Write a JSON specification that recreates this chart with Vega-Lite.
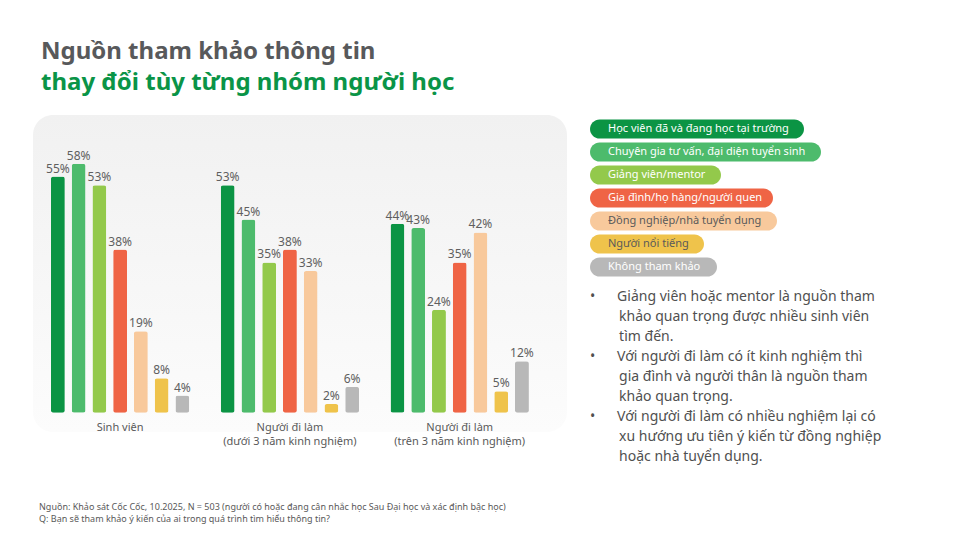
{
  "$schema": "https://vega.github.io/schema/vega-lite/v6.json",
  "background": "white",
  "padding": {"left": 33, "top": 40, "right": 5, "bottom": 5},
  "title": {
    "text": "Nguồn tham khảo thông tin",
    "subtitle": "thay đổi tùy từng nhóm người học",
    "anchor": "start",
    "dx": 8,
    "font": "Noto Sans",
    "fontSize": 24,
    "fontWeight": "bold",
    "color": "#58595b",
    "subtitleFont": "Noto Sans",
    "subtitleFontSize": 24,
    "subtitleFontWeight": "bold",
    "subtitleColor": "#0a9447",
    "subtitlePadding": 7,
    "offset": 20
  },
  "config": {"view": {"stroke": null}, "font": "Noto Sans"},
  "datasets": {
    "survey": [
      {"group": "Sinh viên", "source": "Học viên đã và đang học tại trường", "pct": 0.55},
      {"group": "Sinh viên", "source": "Chuyên gia tư vấn, đại diện tuyển sinh", "pct": 0.58},
      {"group": "Sinh viên", "source": "Giảng viên/mentor", "pct": 0.53},
      {"group": "Sinh viên", "source": "Gia đình/họ hàng/người quen", "pct": 0.38},
      {"group": "Sinh viên", "source": "Đồng nghiệp/nhà tuyển dụng", "pct": 0.19},
      {"group": "Sinh viên", "source": "Người nổi tiếng", "pct": 0.08},
      {"group": "Sinh viên", "source": "Không tham khảo", "pct": 0.04},
      {"group": "Người đi làm (dưới 3 năm kinh nghiệm)", "source": "Học viên đã và đang học tại trường", "pct": 0.53},
      {"group": "Người đi làm (dưới 3 năm kinh nghiệm)", "source": "Chuyên gia tư vấn, đại diện tuyển sinh", "pct": 0.45},
      {"group": "Người đi làm (dưới 3 năm kinh nghiệm)", "source": "Giảng viên/mentor", "pct": 0.35},
      {"group": "Người đi làm (dưới 3 năm kinh nghiệm)", "source": "Gia đình/họ hàng/người quen", "pct": 0.38},
      {"group": "Người đi làm (dưới 3 năm kinh nghiệm)", "source": "Đồng nghiệp/nhà tuyển dụng", "pct": 0.33},
      {"group": "Người đi làm (dưới 3 năm kinh nghiệm)", "source": "Người nổi tiếng", "pct": 0.02},
      {"group": "Người đi làm (dưới 3 năm kinh nghiệm)", "source": "Không tham khảo", "pct": 0.06},
      {"group": "Người đi làm (trên 3 năm kinh nghiệm)", "source": "Học viên đã và đang học tại trường", "pct": 0.44},
      {"group": "Người đi làm (trên 3 năm kinh nghiệm)", "source": "Chuyên gia tư vấn, đại diện tuyển sinh", "pct": 0.43},
      {"group": "Người đi làm (trên 3 năm kinh nghiệm)", "source": "Giảng viên/mentor", "pct": 0.24},
      {"group": "Người đi làm (trên 3 năm kinh nghiệm)", "source": "Gia đình/họ hàng/người quen", "pct": 0.35},
      {"group": "Người đi làm (trên 3 năm kinh nghiệm)", "source": "Đồng nghiệp/nhà tuyển dụng", "pct": 0.42},
      {"group": "Người đi làm (trên 3 năm kinh nghiệm)", "source": "Người nổi tiếng", "pct": 0.05},
      {"group": "Người đi làm (trên 3 năm kinh nghiệm)", "source": "Không tham khảo", "pct": 0.12}
    ],
    "sources": [
      {"source": "Học viên đã và đang học tại trường"},
      {"source": "Chuyên gia tư vấn, đại diện tuyển sinh"},
      {"source": "Giảng viên/mentor"},
      {"source": "Gia đình/họ hàng/người quen"},
      {"source": "Đồng nghiệp/nhà tuyển dụng"},
      {"source": "Người nổi tiếng"},
      {"source": "Không tham khảo"}
    ],
    "notes": [
      {"line": 1, "text": "•\u00a0\u00a0\u00a0\u00a0\u00a0\u00a0Giảng viên hoặc mentor là nguồn tham"},
      {"line": 2, "text": "\u200b\u00a0\u00a0\u00a0\u00a0\u00a0\u00a0\u00a0\u00a0khảo quan trọng được nhiều sinh viên"},
      {"line": 3, "text": "\u200b\u00a0\u00a0\u00a0\u00a0\u00a0\u00a0\u00a0\u00a0tìm đến."},
      {"line": 4, "text": "•\u00a0\u00a0\u00a0\u00a0\u00a0\u00a0Với người đi làm có ít kinh nghiệm thì"},
      {"line": 5, "text": "\u200b\u00a0\u00a0\u00a0\u00a0\u00a0\u00a0\u00a0\u00a0gia đình và người thân là nguồn tham"},
      {"line": 6, "text": "\u200b\u00a0\u00a0\u00a0\u00a0\u00a0\u00a0\u00a0\u00a0khảo quan trọng."},
      {"line": 7, "text": "•\u00a0\u00a0\u00a0\u00a0\u00a0\u00a0Với người đi làm có nhiều nghiệm lại có"},
      {"line": 8, "text": "\u200b\u00a0\u00a0\u00a0\u00a0\u00a0\u00a0\u00a0\u00a0xu hướng ưu tiên ý kiến từ đồng nghiệp"},
      {"line": 9, "text": "\u200b\u00a0\u00a0\u00a0\u00a0\u00a0\u00a0\u00a0\u00a0hoặc nhà tuyển dụng."}
    ]
  },
  "spacing": 23,
  "resolve": {"scale": {"color": "independent", "shape": "independent"}},
  "hconcat": [
    {
      "width": 534,
      "height": 317,
      "data": {"name": "survey"},
      "view": {
        "stroke": null,
        "cornerRadius": 20,
        "fill": {
          "gradient": "linear",
          "x1": 0, "y1": 0, "x2": 0, "y2": 1,
          "stops": [
            {"offset": 0, "color": "#f1f1f1"},
            {"offset": 1, "color": "#fcfcfc"}
          ]
        }
      },
      "title": {
        "text": [
          "Nguồn: Khảo sát Cốc Cốc, 10.2025, N = 503 (người có hoặc đang cân nhắc học Sau Đại học và xác định bậc học)",
          "Q: Bạn sẽ tham khảo ý kiến của ai trong quá trình tìm hiểu thông tin?"
        ],
        "orient": "bottom",
        "anchor": "start",
        "dx": 6,
        "offset": 57,
        "font": "Noto Sans",
        "fontSize": 9,
        "fontWeight": "normal",
        "color": "#595959",
        "lineHeight": 12
      },
      "encoding": {
        "x": {
          "field": "group",
          "type": "nominal",
          "sort": null,
          "scale": {"paddingInner": 0.185, "paddingOuter": 0.165, "align": 0.32},
          "axis": {
            "title": null,
            "domain": false,
            "ticks": false,
            "grid": false,
            "labelAngle": 0,
            "offset": -13,
            "labelPadding": 2,
            "labelFont": "Noto Sans",
            "labelFontSize": 11,
            "labelColor": "#595959",
            "labelLineHeight": 14,
            "labelExpr": "indexof(datum.label, ' (') > 0 ? [slice(datum.label, 0, indexof(datum.label, ' (')), slice(datum.label, indexof(datum.label, ' (') + 1)] : datum.label"
          }
        },
        "xOffset": {
          "field": "source",
          "type": "nominal",
          "sort": [
            "Học viên đã và đang học tại trường",
            "Chuyên gia tư vấn, đại diện tuyển sinh",
            "Giảng viên/mentor",
            "Gia đình/họ hàng/người quen",
            "Đồng nghiệp/nhà tuyển dụng",
            "Người nổi tiếng",
            "Không tham khảo"
          ],
          "scale": {"paddingInner": 0.33, "paddingOuter": 0}
        },
        "y": {
          "field": "pct",
          "type": "quantitative",
          "scale": {"domain": [-0.045, 0.6935], "zero": false, "nice": false},
          "axis": null
        }
      },
      "layer": [
        {
          "mark": {"type": "bar", "cornerRadius": 2.5},
          "encoding": {
            "color": {
              "field": "source",
              "type": "nominal",
              "scale": {
                "domain": [
                  "Học viên đã và đang học tại trường",
                  "Chuyên gia tư vấn, đại diện tuyển sinh",
                  "Giảng viên/mentor",
                  "Gia đình/họ hàng/người quen",
                  "Đồng nghiệp/nhà tuyển dụng",
                  "Người nổi tiếng",
                  "Không tham khảo"
                ],
                "range": ["#0b9444", "#4dbb6c", "#93c94b", "#ef6445", "#f8c99c", "#efc34b", "#b8b8b8"]
              },
              "legend": null
            }
          }
        },
        {
          "mark": {"type": "text", "baseline": "alphabetic", "dy": -4, "font": "Noto Sans", "fontSize": 12, "color": "#5f5f5f"},
          "encoding": {
            "text": {"field": "pct", "type": "quantitative", "format": ".0%"}
          }
        }
      ]
    },
    {
      "spacing": 10,
      "resolve": {"scale": {"color": "independent", "shape": "independent"}},
      "vconcat": [
        {
          "width": 330,
          "height": 1,
          "data": {"name": "sources"},
          "mark": {"type": "point", "filled": true, "size": 0, "opacity": 1},
          "encoding": {
            "color": {
              "field": "source",
              "type": "nominal",
              "scale": {
                "domain": [
                  "Học viên đã và đang học tại trường",
                  "Chuyên gia tư vấn, đại diện tuyển sinh",
                  "Giảng viên/mentor",
                  "Gia đình/họ hàng/người quen",
                  "Đồng nghiệp/nhà tuyển dụng",
                  "Người nổi tiếng",
                  "Không tham khảo"
                ],
                "range": ["#0b9444", "#4dbb6c", "#93c94b", "#ef6445", "#f8c99c", "#efc34b", "#b8b8b8"]
              },
              "legend": {
                "orient": "bottom",
                "direction": "vertical",
                "columns": 1,
                "title": null,
                "padding": 0,
                "offset": 3,
                "symbolSize": 400,
                "symbolOpacity": 1,
                "symbolStrokeWidth": 0,
                "labelFont": "Noto Sans",
                "labelFontSize": 11,
                "labelOffset": -2,
                "labelLimit": 400,
                "rowPadding": 3,
                "labelColor": {"expr": "datum.value === 'Đồng nghiệp/nhà tuyển dụng' || datum.value === 'Người nổi tiếng' ? '#5a5a5a' : '#ffffff'"}
              }
            },
            "shape": {
              "field": "source",
              "type": "nominal",
              "scale": {
                "domain": [
                  "Học viên đã và đang học tại trường",
                  "Chuyên gia tư vấn, đại diện tuyển sinh",
                  "Giảng viên/mentor",
                  "Gia đình/họ hàng/người quen",
                  "Đồng nghiệp/nhà tuyển dụng",
                  "Người nổi tiếng",
                  "Không tham khảo"
                ],
                "range": [
                  "M -0.04 -0.96 H 19.44 A 0.96 0.96 0 0 1 19.44 0.96 H -0.04 A 0.96 0.96 0 0 1 -0.04 -0.96 Z",
                  "M -0.04 -0.96 H 21.14 A 0.96 0.96 0 0 1 21.14 0.96 H -0.04 A 0.96 0.96 0 0 1 -0.04 -0.96 Z",
                  "M -0.04 -0.96 H 11.14 A 0.96 0.96 0 0 1 11.14 0.96 H -0.04 A 0.96 0.96 0 0 1 -0.04 -0.96 Z",
                  "M -0.04 -0.96 H 16.34 A 0.96 0.96 0 0 1 16.34 0.96 H -0.04 A 0.96 0.96 0 0 1 -0.04 -0.96 Z",
                  "M -0.04 -0.96 H 16.74 A 0.96 0.96 0 0 1 16.74 0.96 H -0.04 A 0.96 0.96 0 0 1 -0.04 -0.96 Z",
                  "M -0.04 -0.96 H 9.44 A 0.96 0.96 0 0 1 9.44 0.96 H -0.04 A 0.96 0.96 0 0 1 -0.04 -0.96 Z",
                  "M -0.04 -0.96 H 10.74 A 0.96 0.96 0 0 1 10.74 0.96 H -0.04 A 0.96 0.96 0 0 1 -0.04 -0.96 Z"
                ]
              },
              "legend": {
                "orient": "bottom",
                "direction": "vertical",
                "columns": 1,
                "title": null
              }
            }
          }
        },
        {
          "width": 330,
          "height": 180,
          "data": {"name": "notes"},
          "mark": {"type": "text", "align": "left", "baseline": "middle", "font": "Noto Sans", "fontSize": 14, "color": "#505050"},
          "encoding": {
            "x": {"datum": 0, "type": "quantitative", "scale": {"domain": [0, 1]}, "axis": null},
            "y": {"field": "line", "type": "ordinal", "axis": null},
            "text": {"field": "text"}
          }
        }
      ]
    }
  ]
}
